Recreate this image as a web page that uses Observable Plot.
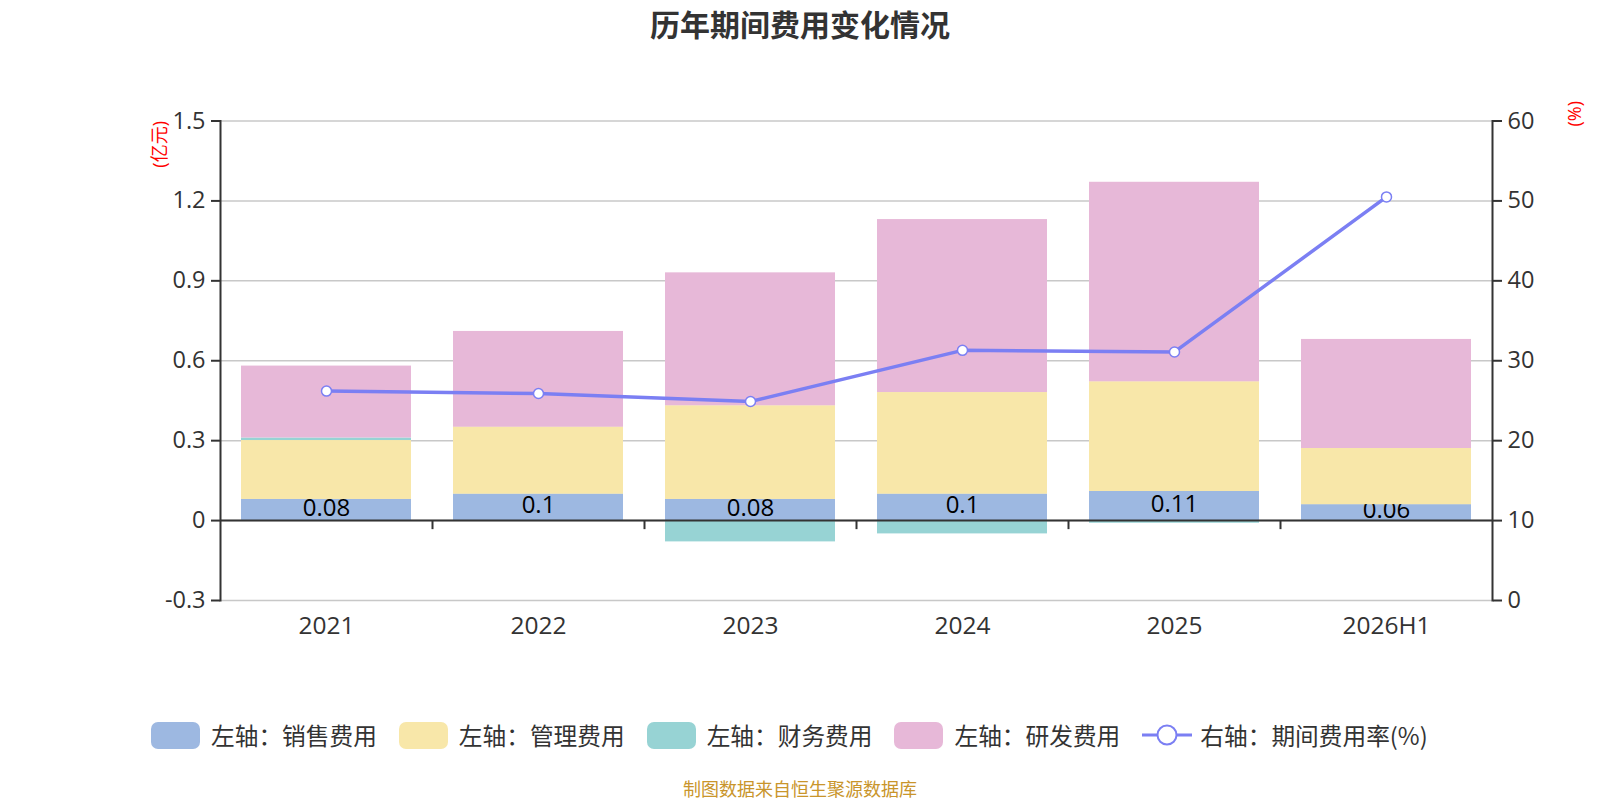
<!DOCTYPE html>
<html>
<head>
<meta charset="utf-8">
<script src="https://cdn.jsdelivr.net/npm/d3@7"></script>
<script src="https://cdn.jsdelivr.net/npm/@observablehq/plot@0.6"></script>
<style>
  body { margin: 0; background: #fff; font-family: "Open Sans", "Noto Sans CJK SC", sans-serif; }
  #wrap { position: relative; width: 1600px; height: 800px; overflow: hidden; }
  #title { position: absolute; left: 0; width: 1600px; top: 3px; line-height: 40px; text-align: center;
           font-size: 30px; font-weight: bold; color: #333; font-family: "Noto Sans CJK SC", sans-serif; }
  #chart { position: absolute; left: 0; top: 0; }
  #legend { position: absolute; left: 151px; top: 718px; height: 34px; display: flex; align-items: center;
            font-size: 23.7px; color: #333; font-family: "Noto Sans CJK SC", sans-serif; }
  .item { display: flex; align-items: center; margin-right: 22px; }
  .sw { width: 49px; height: 27px; border-radius: 7px; margin-right: 11px; }
  #caption { position: absolute; left: 0; width: 1600px; top: 777px; text-align: center; font-size: 18px;
             color: #c9952b; font-family: "Noto Sans CJK SC", sans-serif; line-height: 22px; }
</style>
</head>
<body>
<div id="wrap">
  <div id="title">历年期间费用变化情况</div>
  <div id="chart"></div>
  <div id="legend"></div>
  <div id="caption">制图数据来自恒生聚源数据库</div>
</div>
<script>
// ---- data ----
const years = ["2021", "2022", "2023", "2024", "2025", "2026H1"];
const sales = [0.08, 0.10, 0.08, 0.10, 0.11, 0.06];       // 销售费用 (亿元)
const admin = [0.22, 0.25, 0.35, 0.38, 0.41, 0.21];       // 管理费用
const finance = [0.01, 0.00, -0.08, -0.05, -0.01, 0.00];  // 财务费用
const rnd = [0.27, 0.36, 0.50, 0.65, 0.75, 0.41];         // 研发费用
const rate = [26.2, 25.9, 24.9, 31.3, 31.1, 50.5];        // 期间费用率 (%)
const seriesNames = ["销售费用", "管理费用", "财务费用", "研发费用"];
const seriesColors = ["#9db8e1", "#f8e7a9", "#97d3d4", "#e7b8d8"];
const lineColor = "#7b7ff3";
const leftTicks = [-0.3, 0, 0.3, 0.6, 0.9, 1.2, 1.5];
const rightTicks = [0, 10, 20, 30, 40, 50, 60];
const leftDomain = [-0.3, 1.5];
const rightDomain = [0, 60];

// map right-axis values onto the left scale
const toLeft = r => leftDomain[0] + (r - rightDomain[0]) * (leftDomain[1] - leftDomain[0]) / (rightDomain[1] - rightDomain[0]);
const fromLeft = v => rightDomain[0] + (v - leftDomain[0]) * (rightDomain[1] - rightDomain[0]) / (leftDomain[1] - leftDomain[0]);

const seriesValues = [sales, admin, finance, rnd];
const rows = [];
years.forEach((y, i) => seriesValues.forEach((vals, s) => rows.push({year: y, series: seriesNames[s], value: vals[i]})));
const salesRows = years.map((y, i) => ({year: y, value: sales[i]}));
const rateRows = years.map((y, i) => ({year: y, rate: rate[i]}));

const W = 1600, H = 660, ML = 220, MR = 108, MT = 120.5, MB = 60;
const step = (W - ML - MR) / (years.length - 0.2 + 0.2);
const fontTick = 23.5;

const chart = Plot.plot({
  width: W, height: H,
  marginLeft: ML, marginRight: MR, marginTop: MT, marginBottom: MB,
  style: {fontFamily: '"Open Sans", "Noto Sans CJK SC", sans-serif', color: "#333", background: "transparent"},
  x: {domain: years, paddingInner: 0.2, paddingOuter: 0.1, label: null},
  y: {domain: leftDomain, label: null},
  color: {domain: seriesNames, range: seriesColors},
  marks: [
    Plot.gridY(leftTicks, {stroke: "#c8c8c8", strokeOpacity: 1, strokeWidth: 1.5}),
    Plot.barY(rows, {x: "year", y: "value", fill: "series"}),
    Plot.text(salesRows, {x: "year", y: d => d.value / 2, text: d => String(d.value), fontSize: 24, fill: "#000", dy: -2}),
    Plot.barY(rows, {x: "year", y: "value", fill: "series", fillOpacity: d => d.series === "管理费用" ? 1 : 0}),
    Plot.ruleY([0], {stroke: "#333", strokeWidth: 2}),
    Plot.ruleX(years.slice(1), {x: d => d, dx: -step / 2, y1: 0, y2: -0.034, stroke: "#333", strokeWidth: 2}),
    Plot.frame({anchor: "left", stroke: "#333", strokeWidth: 2}),
    Plot.frame({anchor: "right", stroke: "#333", strokeWidth: 2}),
    Plot.axisY(leftTicks, {anchor: "left", tickSize: 9, tickPadding: 6, fontSize: fontTick, tickFormat: d => String(d), stroke: "#333", strokeWidth: 2, fill: "#333"}),
    Plot.axisY(rightTicks.map(toLeft), {anchor: "right", tickSize: 9, tickPadding: 6, fontSize: fontTick, tickFormat: v => String(Math.round(fromLeft(v))), stroke: "#333", strokeWidth: 2, fill: "#333"}),
    Plot.axisX({anchor: "bottom", tickSize: 0, tickPadding: 16, fontSize: 24.5, fill: "#333"}),
    Plot.line(rateRows, {x: "year", y: d => toLeft(d.rate), stroke: lineColor, strokeWidth: 3.5}),
    Plot.dot(rateRows, {x: "year", y: d => toLeft(d.rate), r: 5, fill: "#fff", stroke: lineColor, strokeWidth: 1.5}),
    Plot.text(["(亿元)"], {frameAnchor: "top-left", dx: -67, dy: 0, rotate: -90, textAnchor: "end", fill: "red", fontSize: 18}),
    Plot.text(["(%)"], {frameAnchor: "top-right", dx: 76, dy: -20, rotate: -90, textAnchor: "end", fill: "red", fontSize: 18})
  ]
});
document.getElementById("chart").appendChild(chart);

// ---- legend ----
const legend = document.getElementById("legend");
seriesNames.forEach((name, i) => {
  const it = document.createElement("div");
  it.className = "item";
  it.innerHTML = `<div class="sw" style="background:${seriesColors[i]}"></div><span>左轴：${name}</span>`;
  legend.appendChild(it);
});
const li = document.createElement("div");
li.className = "item";
li.innerHTML = `<svg width="50" height="28" style="margin-right:8px"><line x1="0" y1="14" x2="50" y2="14" stroke="${lineColor}" stroke-width="3"/><circle cx="25" cy="14" r="9.5" fill="#fff" stroke="${lineColor}" stroke-width="2"/></svg><span>右轴：期间费用率(%)</span>`;
legend.appendChild(li);
</script>
</body>
</html>
